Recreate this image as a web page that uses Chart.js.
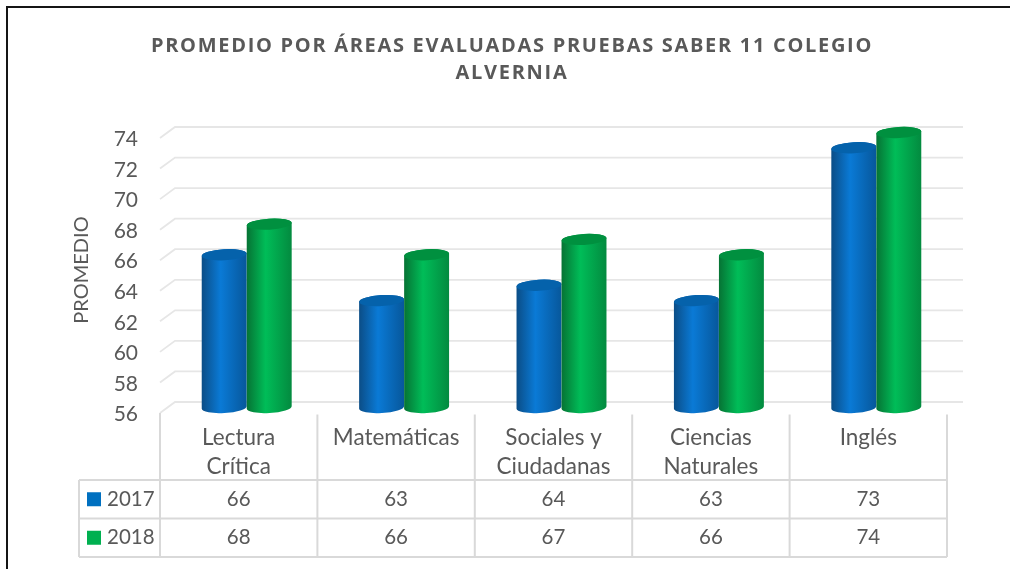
<!DOCTYPE html>
<html>
<head>
<meta charset="utf-8">
<script src="https://cdn.jsdelivr.net/npm/chart.js@4.4.1/dist/chart.umd.min.js"></script>
<style>
  html, body { margin: 0; padding: 0; background: #fff; }
  #wrap { position: relative; width: 1010px; height: 569px; overflow: hidden; }
  #frame { position: absolute; left: 6px; top: 6px; width: 1010px; height: 600px;
           border-left: 2px solid #151515; border-top: 2px solid #151515; pointer-events: none; }
</style>
</head>
<body>
<div id="wrap">
  <canvas id="chart" width="1010" height="569"></canvas>
  <div id="frame"></div>
</div>
<script>
// datos
let titleLines = ["PROMEDIO POR ÁREAS EVALUADAS PRUEBAS SABER 11 COLEGIO", "ALVERNIA"];
let areas = [["Lectura", "Crítica"], "Matemáticas", ["Sociales y", "Ciudadanas"], ["Ciencias", "Naturales"], "Inglés"];
let years = ["2017", "2018"];
let prom2017 = [66, 63, 64, 63, 73];
let prom2018 = [68, 66, 67, 66, 74];
let yMin = 56;
let yMax = 74;
let yStep = 2;

let textColor = "#595959";
let baseFont = "Lato";
let colors = ["#0070C0", "#00B050"];
let shades = [
  { edge: "#0b4d86", light: "#0a7ad6", dark: "#07579b", top: "#0562ab" },
  { edge: "#067334", light: "#00bd58", dark: "#038a3f", top: "#00903f" }
];
let depth = 8;      // desplazamiento 3D
let gridTilt = 5.5; // mitad de la profundidad del piso
let tilt = -0.06;   // giro de las elipses de los cilindros

// titulo con espaciado entre letras (como en Excel)
let titlePlugin = {
  id: "spacedTitle",
  afterDraw(chart) {
    let ctx = chart.ctx;
    ctx.save();
    ctx.font = "bold 20px 'Open Sans'";
    ctx.letterSpacing = "1.7px";
    ctx.fillStyle = textColor;
    ctx.textAlign = "center";
    ctx.textBaseline = "middle";
    titleLines.forEach((line, i) => {
      ctx.fillText(line, 512, 46 + i * 27);
    });
    ctx.restore();
  }
};

// rejilla con el borde inclinado de la pared 3D
let gridPlugin = {
  id: "grid3d",
  beforeDatasetsDraw(chart) {
    let ctx = chart.ctx;
    let area = chart.chartArea;
    let yScale = chart.scales.y;
    ctx.save();
    ctx.strokeStyle = "#e6e6e6";
    ctx.lineWidth = 1.8;
    yScale.ticks.forEach(t => {
      let py = yScale.getPixelForValue(t.value);
      ctx.beginPath();
      ctx.moveTo(area.left - depth, py + gridTilt);
      ctx.lineTo(area.left + 7, py - gridTilt);
      ctx.lineTo(area.right + depth, py - gridTilt);
      ctx.stroke();
    });
    ctx.restore();
  }
};

// cilindros en lugar de barras planas
let cylinderPlugin = {
  id: "cylinders",
  afterDatasetsDraw(chart) {
    let ctx = chart.ctx;
    chart.data.datasets.forEach((ds, di) => {
      let meta = chart.getDatasetMeta(di);
      let sh = shades[di];
      meta.data.forEach(bar => {
        let p = bar.getProps(["x", "y", "base", "width"], true);
        let base = Math.min(p.base, chart.chartArea.bottom);
        let rx = p.width / 2;
        let ry = 5.5;
        let l = p.x - rx;
        let r = p.x + rx;
        let g = ctx.createLinearGradient(l, 0, r, 0);
        g.addColorStop(0, sh.edge);
        g.addColorStop(0.42, sh.light);
        g.addColorStop(1, sh.dark);
        ctx.save();
        ctx.fillStyle = g;
        ctx.beginPath();
        ctx.ellipse(p.x, base, rx, ry, tilt, Math.PI, 0, true);
        ctx.ellipse(p.x, p.y, rx, ry, tilt, 0, Math.PI, true);
        ctx.closePath();
        ctx.fill();
        ctx.fillStyle = sh.top;
        ctx.beginPath();
        ctx.ellipse(p.x, p.y, rx, ry, tilt, 0, Math.PI * 2);
        ctx.fill();
        ctx.restore();
      });
    });
  }
};

// tabla de datos debajo del eje
let tablePlugin = {
  id: "dataTable",
  afterDraw(chart) {
    let ctx = chart.ctx;
    let area = chart.chartArea;
    let xScale = chart.scales.x;
    let colW = area.width / areas.length;
    let left = area.left - depth;
    let right = area.right - depth;
    let legendLeft = 79;
    let rowTop = area.bottom + 72.5;
    let rowH = 38.5;
    let rows = [prom2017, prom2018];

    ctx.save();
    ctx.strokeStyle = "#d9d9d9";
    ctx.lineWidth = 2;
    ctx.beginPath();
    for (let i = 0; i <= areas.length; i++) {
      let x = left + i * colW;
      ctx.moveTo(x, i == 0 ? area.bottom + gridTilt : area.bottom + 7);
      ctx.lineTo(x, rowTop + 2 * rowH);
    }
    for (let j = 0; j <= 2; j++) {
      ctx.moveTo(legendLeft, rowTop + j * rowH);
      ctx.lineTo(right, rowTop + j * rowH);
    }
    ctx.moveTo(legendLeft, rowTop);
    ctx.lineTo(legendLeft, rowTop + 2 * rowH);
    ctx.stroke();

    ctx.font = "20.5px " + baseFont;
    ctx.textBaseline = "middle";
    rows.forEach((vals, j) => {
      let cy = rowTop + j * rowH + rowH / 2;
      ctx.fillStyle = colors[j];
      ctx.fillRect(87, cy - 7, 14, 14);
      ctx.fillStyle = textColor;
      ctx.textAlign = "left";
      ctx.fillText(years[j], 107, cy);
      ctx.textAlign = "center";
      vals.forEach((v, i) => {
        ctx.fillText(String(v), xScale.getPixelForValue(i) - depth, cy);
      });
    });
    ctx.restore();
  }
};

new Chart(document.getElementById("chart"), {
  type: "bar",
  data: {
    labels: areas,
    datasets: [
      { label: years[0], data: prom2017, base: yMin, backgroundColor: "rgba(0,0,0,0)" },
      { label: years[1], data: prom2018, base: yMin, backgroundColor: "rgba(0,0,0,0)" }
    ]
  },
  options: {
    responsive: false,
    animation: false,
    layout: { padding: { left: 0, top: 132.5, right: 55, bottom: 0 } },
    datasets: { bar: { categoryPercentage: 0.572, barPercentage: 1 } },
    plugins: {
      legend: { display: false },
      tooltip: { enabled: false },
      title: { display: false }
    },
    scales: {
      x: {
        grid: { display: false, drawTicks: false },
        border: { display: false },
        ticks: {
          color: textColor,
          font: { family: baseFont, size: 22.5, lineHeight: 1.29 },
          padding: 16,
          labelOffset: -depth,
          maxRotation: 0,
          autoSkip: false
        },
        afterFit(scale) { scale.height = 161.5; }
      },
      y: {
        min: yMin,
        max: yMax,
        grid: { display: false, drawTicks: false },
        border: { display: false },
        ticks: {
          stepSize: yStep,
          color: textColor,
          font: { family: baseFont, size: 21 },
          padding: 30,
          labelOffset: 7
        },
        title: {
          display: true,
          text: "PROMEDIO",
          color: textColor,
          font: { family: baseFont, size: 20, lineHeight: 1.2 },
          padding: { top: 70, bottom: 0 }
        },
        afterFit(scale) { scale.width = 168; }
      }
    }
  },
  plugins: [gridPlugin, cylinderPlugin, tablePlugin, titlePlugin]
});
</script>
</body>
</html>
